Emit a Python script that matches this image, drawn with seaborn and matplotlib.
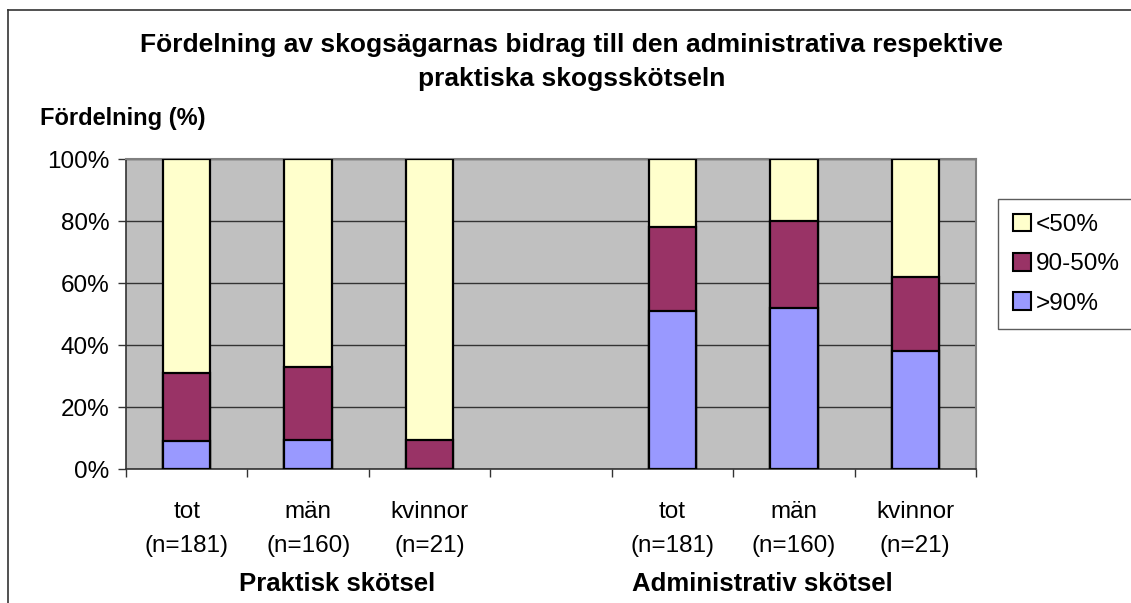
import matplotlib
matplotlib.use("Agg")
import matplotlib.pyplot as plt
import seaborn as sns
import pandas as pd
from matplotlib.patches import Patch
from matplotlib.lines import Line2D

# category keys (gap slot in the middle), tick labels and group names
keys = ["p_tot", "p_man", "p_kv", "gap", "a_tot", "a_man", "a_kv"]
tick_labels = ["tot\n(n=181)", "män\n(n=160)", "kvinnor\n(n=21)", "",
               "tot\n(n=181)", "män\n(n=160)", "kvinnor\n(n=21)"]
group_names = ["Praktisk skötsel", "Administrativ skötsel"]

# shares in percent per bar (gap slot has no data)
over90 = [9, 9.5, 0, None, 51, 52, 38]
mid90_50 = [22, 23.5, 9.5, None, 27, 28, 24]
under50 = [69, 67, 90.5, None, 22, 20, 38]

series_names = ["<50%", "90-50%", ">90%"]
colors = {"<50%": "#FFFFCC", "90-50%": "#993366", ">90%": "#9999FF"}

df = pd.DataFrame({"key": keys, ">90%": over90, "90-50%": mid90_50, "<50%": under50})
df = df[df["key"] != "gap"].copy()
df["top_blue"] = df[">90%"]
df["top_red"] = df[">90%"] + df["90-50%"]
df["top_yellow"] = df["top_red"] + df["<50%"]

fig = plt.figure(figsize=(11.31, 6.03), dpi=100)
ax = fig.add_axes([126 / 1131, 1 - 469 / 603, 850 / 1131, 310 / 603])
ax.set_facecolor("#C0C0C0")

font = "Liberation Sans"
# stacked look: draw cumulative totals back to front
for col, name in [("top_yellow", "<50%"), ("top_red", "90-50%"), ("top_blue", ">90%")]:
    sns.barplot(data=df, x="key", y=col, order=keys, color=colors[name],
                saturation=1, width=0.39, edgecolor="black", linewidth=1.6,
                ax=ax, zorder=3)

ax.set_ylim(0, 100)
ax.set_xlim(-0.5, 6.5)
ax.set_yticks([0, 20, 40, 60, 80, 100])
ax.set_yticklabels([f"{v}%" for v in [0, 20, 40, 60, 80, 100]],
                   fontsize=17.5, family=font)
ax.yaxis.grid(True, color="#333333", linewidth=1.0, zorder=1)
ax.set_axisbelow(True)
ax.tick_params(axis="y", length=6, width=1, direction="out", pad=6, color="#333333")

ax.set_xticks(range(len(keys)))
ax.set_xticklabels(tick_labels, fontsize=17.5, family=font, linespacing=1.7)
ax.set_xticks([i - 0.5 for i in range(len(keys) + 1)], minor=True)
ax.tick_params(axis="x", which="major", length=0, pad=23)
ax.tick_params(axis="x", which="minor", length=6, width=1, direction="out", color="#333333")
ax.set_xlabel("")
ax.set_ylabel("")

for side in ["top", "right"]:
    ax.spines[side].set_color("#808080")
    ax.spines[side].set_linewidth(1.5)
for side in ["left", "bottom"]:
    ax.spines[side].set_color("#333333")
    ax.spines[side].set_linewidth(1.2)

# group labels under the tick labels
ax.text(1.24, -0.37, group_names[0], transform=ax.get_xaxis_transform(),
        ha="center", va="center", fontsize=18.5, fontweight="bold", family=font)
ax.text(4.74, -0.37, group_names[1], transform=ax.get_xaxis_transform(),
        ha="center", va="center", fontsize=18.5, fontweight="bold", family=font)

fig.text(572 / 1131, 1 - 62 / 603,
         "Fördelning av skogsägarnas bidrag till den administrativa respektive\npraktiska skogsskötseln",
         ha="center", va="center", fontsize=19, fontweight="bold", family=font,
         linespacing=1.55)
fig.text(40 / 1131, 1 - 118 / 603, "Fördelning (%)", ha="left", va="center",
         fontsize=17, fontweight="bold", family=font)

handles = [Patch(facecolor=colors[n], edgecolor="black", linewidth=1.5, label=n)
           for n in series_names]
leg = fig.legend(handles=handles, loc="upper left",
                 bbox_to_anchor=(998 / 1131, 1 - 199 / 603),
                 prop={"family": font, "size": 17.5}, frameon=True, fancybox=False,
                 handlelength=0.75, handleheight=0.75, handletextpad=0.2,
                 labelspacing=0.7, borderpad=0.6, borderaxespad=0)
leg.get_frame().set_edgecolor("#333333")
leg.get_frame().set_linewidth(1.0)

# outer chart border (top and left edges visible)
fig.add_artist(Line2D([8 / 1131, 1.0], [1 - 10 / 603, 1 - 10 / 603],
                      transform=fig.transFigure, color="#333333", linewidth=1.2))
fig.add_artist(Line2D([8 / 1131, 8 / 1131], [0.0, 1 - 10 / 603],
                      transform=fig.transFigure, color="#333333", linewidth=1.2))

fig.savefig("out.png", dpi=100)
